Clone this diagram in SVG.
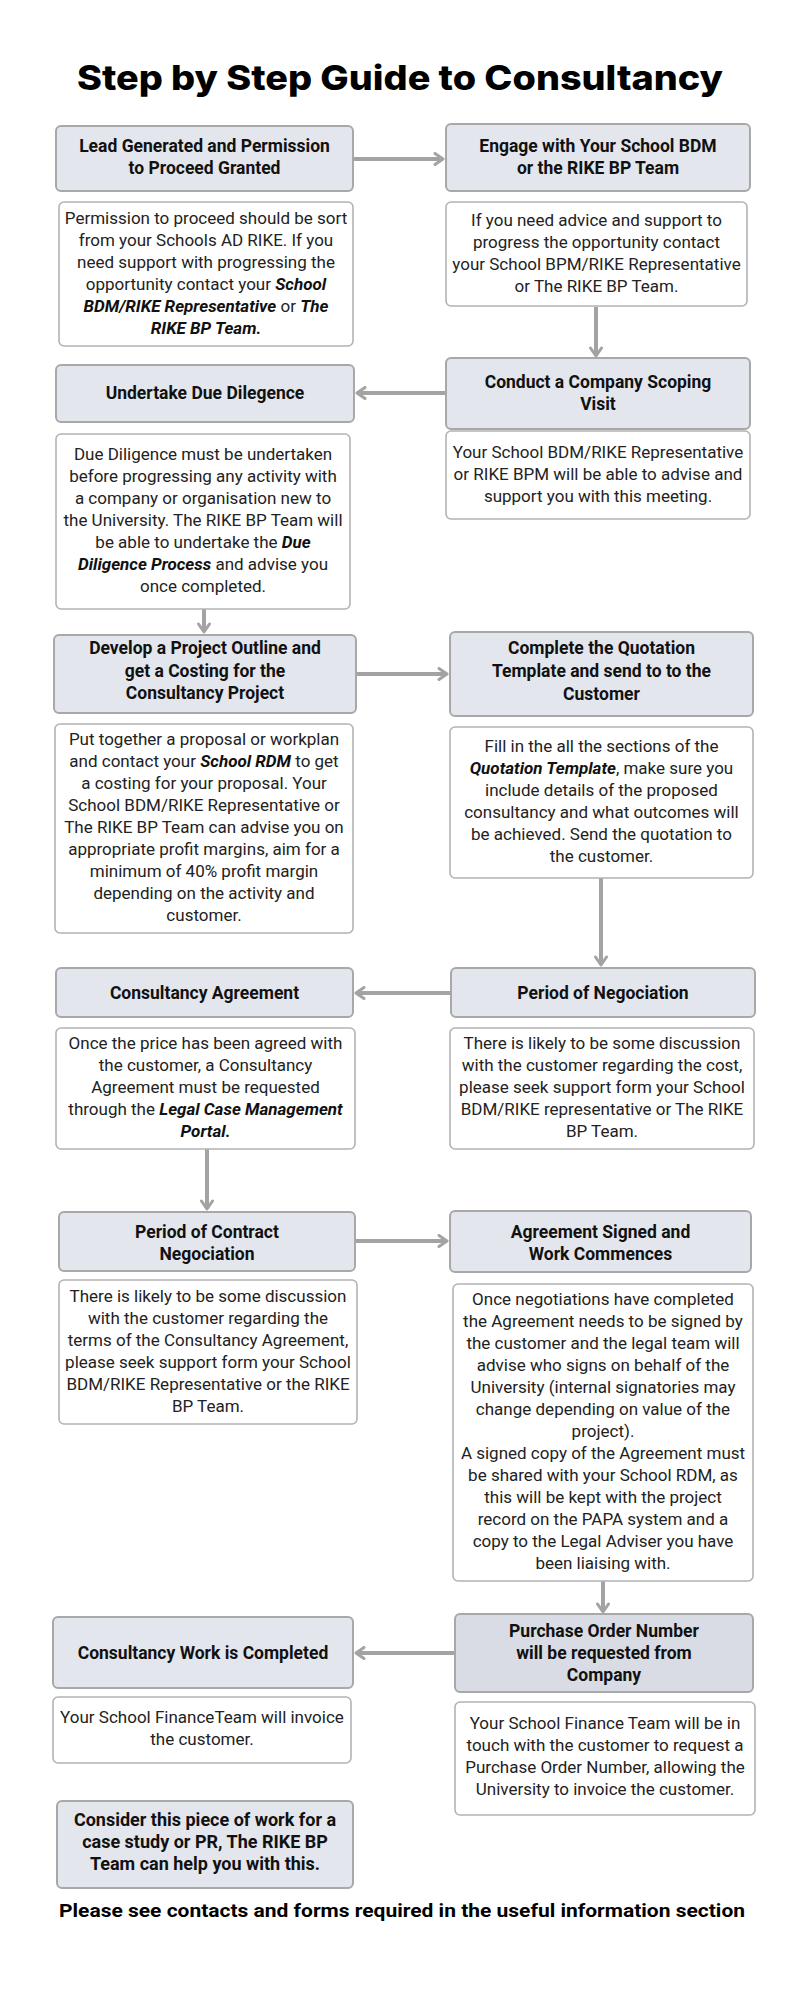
<svg xmlns="http://www.w3.org/2000/svg" width="800" height="2000" viewBox="0 0 800 2000">
<defs>
<marker id="chev" viewBox="0 0 12 14" refX="10" refY="7" markerWidth="12" markerHeight="14" orient="auto" markerUnits="userSpaceOnUse">
<path d="M2,1.5 L10,7 L2,12.5" fill="none" stroke="#a3a3a3" stroke-width="3" stroke-linecap="round" stroke-linejoin="round"/>
</marker>
<style>
.hd{fill:#e3e6ec;stroke:#a8a8a8;stroke-width:2}
.hd2{fill:#d9dce4;stroke:#a8a8a8;stroke-width:2}
.bx{fill:#ffffff;stroke:#b3b3b3;stroke-width:1.6}
.ht{font-family:Roboto,"Liberation Sans",sans-serif;font-weight:bold;font-size:17.5px;fill:#111;text-anchor:middle}
.bt{font-family:Roboto,"Liberation Sans",sans-serif;font-size:17px;fill:#222;text-anchor:middle}
.bi{font-weight:bold;font-style:italic;fill:#111}
.big{font-size:18px}
.ar{fill:none;stroke:#a3a3a3;stroke-width:4;marker-end:url(#chev)}
.title{font-family:Inter,"Liberation Sans",sans-serif;font-weight:800;font-size:34px;fill:#000;text-anchor:middle}
.foot{font-family:Roboto,"Liberation Sans",sans-serif;font-weight:bold;font-size:18px;fill:#000;text-anchor:middle}
</style>
</defs>
<rect width="800" height="2000" fill="#ffffff"/>
<text class="title" x="400" y="90" textLength="646" lengthAdjust="spacingAndGlyphs">Step by Step Guide to Consultancy</text>

<g id="connectors">
<path class="ar" d="M354,159 L443,159"/>
<path class="ar" d="M596,307 L596,356"/>
<path class="ar" d="M446,393 L357,393"/>
<path class="ar" d="M204,609 L204,632"/>
<path class="ar" d="M357,674 L447,674"/>
<path class="ar" d="M601,878 L601,965"/>
<path class="ar" d="M451,993 L356,993"/>
<path class="ar" d="M207,1149 L207,1209"/>
<path class="ar" d="M356,1241 L447,1241"/>
<path class="ar" d="M603,1581 L603,1612"/>
<path class="ar" d="M455,1653 L356,1653"/>
</g>

<g id="lead">
<rect class="hd" x="56" y="126" width="297" height="65" rx="5"/>
<text class="ht" x="204.5" y="152">Lead Generated and Permission</text>
<text class="ht" x="204.5" y="174">to Proceed Granted</text>
</g>
<g id="lead-text">
<rect class="bx" x="59" y="202" width="294" height="144" rx="5"/>
<text class="bt" x="206" y="224">Permission to proceed should be sort</text>
<text class="bt" x="206" y="246">from your Schools AD RIKE. If you</text>
<text class="bt" x="206" y="268">need support with progressing the</text>
<text class="bt" x="206" y="290">opportunity contact your <tspan class="bi">School</tspan></text>
<text class="bt" x="206" y="312"><tspan class="bi">BDM/RIKE Representative</tspan> or <tspan class="bi">The</tspan></text>
<text class="bt" x="206" y="334"><tspan class="bi">RIKE BP Team.</tspan></text>
</g>

<g id="engage">
<rect class="hd" x="446" y="124" width="304" height="67" rx="5"/>
<text class="ht" x="598" y="152">Engage with Your School BDM</text>
<text class="ht" x="598" y="174">or the RIKE BP Team</text>
</g>
<g id="engage-text">
<rect class="bx" x="446" y="202" width="301" height="104" rx="5"/>
<text class="bt" x="596.5" y="226">If you need advice and support to</text>
<text class="bt" x="596.5" y="248">progress the opportunity contact</text>
<text class="bt" x="596.5" y="270">your School BPM/RIKE Representative</text>
<text class="bt" x="596.5" y="292">or The RIKE BP Team.</text>
</g>

<g id="scoping">
<rect class="hd" x="446" y="358" width="304" height="71" rx="5"/>
<text class="ht" x="598" y="388">Conduct a Company Scoping</text>
<text class="ht" x="598" y="410">Visit</text>
</g>
<g id="scoping-text">
<rect class="bx" x="446" y="431" width="304" height="88" rx="5"/>
<text class="bt" x="598" y="458">Your School BDM/RIKE Representative</text>
<text class="bt" x="598" y="480">or RIKE BPM will be able to advise and</text>
<text class="bt" x="598" y="502">support you with this meeting.</text>
</g>

<g id="duediligence">
<rect class="hd" x="56" y="365" width="298" height="57" rx="5"/>
<text class="ht" x="205" y="399">Undertake Due Dilegence</text>
</g>
<g id="duediligence-text">
<rect class="bx" x="56" y="434" width="294" height="175" rx="5"/>
<text class="bt" x="203" y="460">Due Diligence must be undertaken</text>
<text class="bt" x="203" y="482">before progressing any activity with</text>
<text class="bt" x="203" y="504">a company or organisation new to</text>
<text class="bt" x="203" y="526">the University. The RIKE BP Team will</text>
<text class="bt" x="203" y="548">be able to undertake the <tspan class="bi">Due</tspan></text>
<text class="bt" x="203" y="570"><tspan class="bi">Diligence Process</tspan> and advise you</text>
<text class="bt" x="203" y="592">once completed.</text>
</g>

<g id="outline">
<rect class="hd" x="54" y="635" width="302" height="78" rx="5"/>
<text class="ht" x="205" y="654">Develop a Project Outline and</text>
<text class="ht" x="205" y="677">get a Costing for the</text>
<text class="ht" x="205" y="699">Consultancy Project</text>
</g>
<g id="outline-text">
<rect class="bx" x="55" y="724" width="298" height="209" rx="5"/>
<text class="bt" x="204" y="745">Put together a proposal or workplan</text>
<text class="bt" x="204" y="767">and contact your <tspan class="bi">School RDM</tspan> to get</text>
<text class="bt" x="204" y="789">a costing for your proposal. Your</text>
<text class="bt" x="204" y="811">School BDM/RIKE Representative or</text>
<text class="bt" x="204" y="833">The RIKE BP Team can advise you on</text>
<text class="bt" x="204" y="855">appropriate profit margins, aim for a</text>
<text class="bt" x="204" y="877">minimum of 40% profit margin</text>
<text class="bt" x="204" y="899">depending on the activity and</text>
<text class="bt" x="204" y="921">customer.</text>
</g>

<g id="quotation">
<rect class="hd" x="450" y="632" width="303" height="84" rx="5"/>
<text class="ht" x="601.5" y="654">Complete the Quotation</text>
<text class="ht" x="601.5" y="677">Template and send to to the</text>
<text class="ht" x="601.5" y="700">Customer</text>
</g>
<g id="quotation-text">
<rect class="bx" x="450" y="727" width="303" height="151" rx="5"/>
<text class="bt" x="601.5" y="752">Fill in the all the sections of the</text>
<text class="bt" x="601.5" y="774"><tspan class="bi">Quotation Template</tspan>, make sure you</text>
<text class="bt" x="601.5" y="796">include details of the proposed</text>
<text class="bt" x="601.5" y="818">consultancy and what outcomes will</text>
<text class="bt" x="601.5" y="840">be achieved. Send the quotation to</text>
<text class="bt" x="601.5" y="862">the customer.</text>
</g>

<g id="negociation">
<rect class="hd" x="451" y="968" width="304" height="49" rx="5"/>
<text class="ht" x="603" y="999">Period of Negociation</text>
</g>
<g id="negociation-text">
<rect class="bx" x="450" y="1028" width="304" height="121" rx="5"/>
<text class="bt" x="602" y="1049">There is likely to be some discussion</text>
<text class="bt" x="602" y="1071">with the customer regarding the cost,</text>
<text class="bt" x="602" y="1093">please seek support form your School</text>
<text class="bt" x="602" y="1115">BDM/RIKE representative or The RIKE</text>
<text class="bt" x="602" y="1137">BP Team.</text>
</g>

<g id="agreement">
<rect class="hd" x="56" y="968" width="297" height="49" rx="5"/>
<text class="ht" x="204.5" y="999">Consultancy Agreement</text>
</g>
<g id="agreement-text">
<rect class="bx" x="56" y="1028" width="299" height="121" rx="5"/>
<text class="bt" x="205.5" y="1049">Once the price has been agreed with</text>
<text class="bt" x="205.5" y="1071">the customer, a Consultancy</text>
<text class="bt" x="205.5" y="1093">Agreement must be requested</text>
<text class="bt" x="205.5" y="1115">through the <tspan class="bi">Legal Case Management</tspan></text>
<text class="bt" x="205.5" y="1137"><tspan class="bi">Portal.</tspan></text>
</g>

<g id="contract">
<rect class="hd" x="59" y="1212" width="296" height="59" rx="5"/>
<text class="ht" x="207" y="1238">Period of Contract</text>
<text class="ht" x="207" y="1260">Negociation</text>
</g>
<g id="contract-text">
<rect class="bx" x="59" y="1280" width="298" height="144" rx="5"/>
<text class="bt" x="208" y="1302">There is likely to be some discussion</text>
<text class="bt" x="208" y="1324">with the customer regarding the</text>
<text class="bt" x="208" y="1346">terms of the Consultancy Agreement,</text>
<text class="bt" x="208" y="1368">please seek support form your School</text>
<text class="bt" x="208" y="1390">BDM/RIKE Representative or the RIKE</text>
<text class="bt" x="208" y="1412">BP Team.</text>
</g>

<g id="signed">
<rect class="hd" x="450" y="1211" width="301" height="61" rx="5"/>
<text class="ht" x="600.5" y="1238">Agreement Signed and</text>
<text class="ht" x="600.5" y="1260">Work Commences</text>
</g>
<g id="signed-text">
<rect class="bx" x="453" y="1284" width="300" height="297" rx="5"/>
<text class="bt" x="603" y="1305">Once negotiations have completed</text>
<text class="bt" x="603" y="1327">the Agreement needs to be signed by</text>
<text class="bt" x="603" y="1349">the customer and the legal team will</text>
<text class="bt" x="603" y="1371">advise who signs on behalf of the</text>
<text class="bt" x="603" y="1393">University (internal signatories may</text>
<text class="bt" x="603" y="1415">change depending on value of the</text>
<text class="bt" x="603" y="1437">project).</text>
<text class="bt" x="603" y="1459">A signed copy of the Agreement must</text>
<text class="bt" x="603" y="1481">be shared with your School RDM, as</text>
<text class="bt" x="603" y="1503">this will be kept with the project</text>
<text class="bt" x="603" y="1525">record on the PAPA system and a</text>
<text class="bt" x="603" y="1547">copy to the Legal Adviser you have</text>
<text class="bt" x="603" y="1569">been liaising with.</text>
</g>

<g id="purchase">
<rect class="hd2" x="455" y="1614" width="298" height="78" rx="5"/>
<text class="ht" x="604" y="1637">Purchase Order Number</text>
<text class="ht" x="604" y="1659">will be requested from</text>
<text class="ht" x="604" y="1681">Company</text>
</g>
<g id="purchase-text">
<rect class="bx" x="455" y="1702" width="300" height="113" rx="5"/>
<text class="bt" x="605" y="1729">Your School Finance Team will be in</text>
<text class="bt" x="605" y="1751">touch with the customer to request a</text>
<text class="bt" x="605" y="1773">Purchase Order Number, allowing the</text>
<text class="bt" x="605" y="1795">University to invoice the customer.</text>
</g>

<g id="completed">
<rect class="hd" x="53" y="1617" width="300" height="71" rx="5"/>
<text class="ht" x="203" y="1659">Consultancy Work is Completed</text>
</g>
<g id="completed-text">
<rect class="bx" x="53" y="1697" width="298" height="66" rx="5"/>
<text class="bt" x="202" y="1723">Your School FinanceTeam will invoice</text>
<text class="bt" x="202" y="1745">the customer.</text>
</g>

<g id="casestudy">
<rect class="hd" x="57" y="1801" width="296" height="87" rx="5"/>
<text class="ht big" x="205" y="1826">Consider this piece of work for a</text>
<text class="ht big" x="205" y="1848">case study or PR, The RIKE BP</text>
<text class="ht big" x="205" y="1870">Team can help you with this.</text>
</g>

<text class="foot" x="402" y="1917" textLength="686" lengthAdjust="spacingAndGlyphs">Please see contacts and forms required in the useful information section</text>
</svg>
